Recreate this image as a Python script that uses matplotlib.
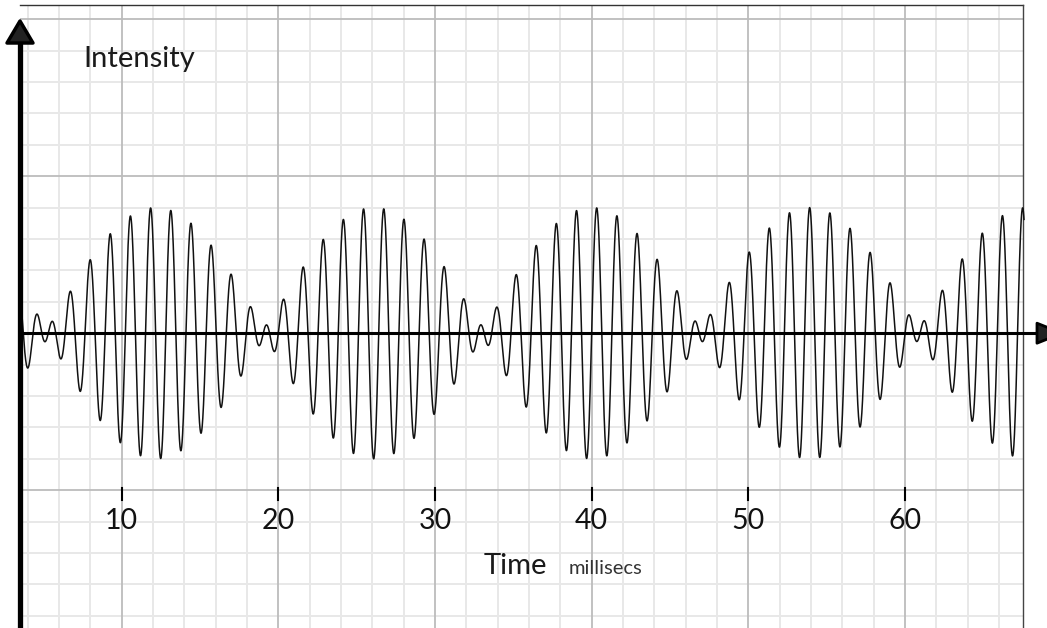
import numpy as np
import matplotlib
matplotlib.use("Agg")
import matplotlib.pyplot as plt
from matplotlib.patches import Polygon

# ---------------- data ----------------
tone_freq_hz = [808.4, 736.5]        # the two interfering tones
tone_amp = [4.25, 3.75]              # their amplitudes (grid units)
envelope_peak_ms = 40.0              # time where the two tones are in phase
time_range_ms = [3.5, 67.6]
tick_values = [10, 20, 30, 40, 50, 60]
tick_labels = ["10", "20", "30", "40", "50", "60"]
y_title = "Intensity"
x_title = "Time"
x_unit = "millisecs"

t = np.linspace(time_range_ms[0], time_range_ms[1], 30000)
signal = np.zeros_like(t)
for f, a in zip(tone_freq_hz, tone_amp):
    signal += a * np.sin(2 * np.pi * f * (t - envelope_peak_ms) / 1000.0)

# ---------------- layout ----------------
W, H = 1047, 628
sx, x0px = 15.665, -34.95
sy, y0px = 15.7, 333.2

def X(px):
    return (px - x0px) / sx

def Y(py):
    return (y0px - py) / sy

fig = plt.figure(figsize=(W / 100, H / 100), dpi=100)
ax = fig.add_axes([0, 0, 1, 1])
ax.set_xlim(X(0), X(W))
ax.set_ylim(Y(H), Y(0))
ax.axis("off")

L, R = X(20), X(1023)
T, B = Y(5), Y(H)

# grid
for xv in range(4, 67, 2):
    major = xv % 10 == 0
    ax.plot([xv, xv], [B, T], color="#bcbcbc" if major else "#e8e8e8",
            lw=1.3 if major else 1.4, zorder=2 if major else 1, solid_capstyle="butt")
for yv in range(-18, 21, 2):
    if yv == 0:
        continue
    major = yv % 10 == 0
    ax.plot([L, R], [yv, yv], color="#bcbcbc" if major else "#e8e8e8",
            lw=1.3 if major else 1.4, zorder=2 if major else 1, solid_capstyle="butt")

# frame
ax.plot([L, R], [T, T], color="#333333", lw=1.0, zorder=3)
ax.plot([R, R], [B, T], color="#444444", lw=1.0, zorder=3)

# waveform
ax.plot(t, signal, color="#111111", lw=1.1, zorder=5)

# x axis with arrow
ax.plot([L, X(1040)], [0, 0], color="black", lw=2.2, zorder=6, solid_capstyle="butt")
ax.add_patch(Polygon([[X(1037), 10 / sy], [X(1062), 0], [X(1037), -10 / sy]],
                     closed=True, facecolor="#222222", edgecolor="black",
                     lw=2, joinstyle="round", zorder=7))

# y axis with arrow
ax.plot([L, L], [B, Y(40)], color="black", lw=3.8, zorder=6, solid_capstyle="butt")
ax.add_patch(Polygon([[L - 13 / sx, Y(43)], [L, Y(21)], [L + 13 / sx, Y(43)]],
                     closed=True, facecolor="#222222", edgecolor="black",
                     lw=2.5, joinstyle="round", zorder=7))

# tick marks and labels
font = "Lato"
for v, lab in zip(tick_values, tick_labels):
    ax.plot([v, v], [Y(488), Y(500)], color="black", lw=1.5, zorder=6)
    ax.text(v, Y(529), lab, ha="center", va="baseline", fontsize=20.5,
            family=font, color="#111111", zorder=8)

ax.text(X(83), Y(66.7), y_title, ha="left", va="baseline", fontsize=21,
        family=font, color="#1a1a1a", zorder=8)
ax.text(X(484), Y(574.3), x_title, ha="left", va="baseline", fontsize=21,
        family=font, color="#1a1a1a", zorder=8)
ax.text(X(569), Y(574.3), x_unit, ha="left", va="baseline", fontsize=14.5,
        family=font, color="#333333", zorder=8)

fig.savefig("out.png", dpi=100)
